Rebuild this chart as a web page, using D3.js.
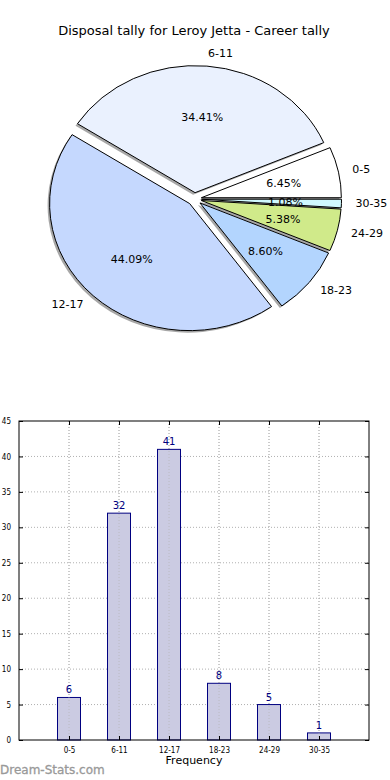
<!DOCTYPE html>
<html><head><meta charset="utf-8">
<script src="https://cdn.jsdelivr.net/npm/d3@7"></script>
<style>
body{margin:0;background:#fff;}
svg{display:block;font-family:"DejaVu Sans",sans-serif;}
</style></head>
<body>
<svg id="chart" width="390" height="780"></svg>
<script>
const categories = ["0-5","6-11","12-17","18-23","24-29","30-35"];
const counts = [6, 32, 41, 8, 5, 1];
const pieColors = ["#ffffff","#eaf1fe","#c5d8fe","#b3d5fe","#d0ea8a","#d0f8fe"];
const yTicks = [0,5,10,15,20,25,30,35,40,45];
const title = "Disposal tally for Leroy Jetta - Career tally";
const xLabel = "Frequency";
const watermark = "Dream-Stats.com";

const svg = d3.select("#chart");

svg.append("text").attr("x",194).attr("y",35).attr("text-anchor","middle")
  .attr("font-size",13).attr("fill","#000").text(title);

// ---------- Pie (matplotlib-style: CCW from east, exploded, elliptical) ----------
const cx = 194.5, cy = 199, rx = 140, ry = 127, explode = 0.05;
const total = d3.sum(counts);
const angleScale = d3.scaleLinear().domain([0,total]).range([0, 2*Math.PI]);
let cum = 0;
const slices = counts.map((v,i)=>{
  const t1 = angleScale(cum); cum += v; const t2 = angleScale(cum);
  return {i, v, t1, t2, mid:(t1+t2)/2};
});
const arcGen = d3.arc().innerRadius(0).outerRadius(1);
const pieG = svg.append("g");
slices.forEach(s=>{
  const ox = cx + explode*rx*Math.cos(s.mid), oy = cy - explode*ry*Math.sin(s.mid);
  pieG.append("path")
    .attr("transform",`translate(${ox-2},${oy+2}) scale(${rx},${ry})`)
    .attr("d", arcGen({startAngle: Math.PI/2 - s.t2, endAngle: Math.PI/2 - s.t1}))
    .attr("fill","#8a8a8a").attr("opacity",0.75);
});
slices.forEach(s=>{
  const ox = cx + explode*rx*Math.cos(s.mid), oy = cy - explode*ry*Math.sin(s.mid);
  pieG.append("path")
    .attr("transform",`translate(${ox},${oy}) scale(${rx},${ry})`)
    .attr("d", arcGen({startAngle: Math.PI/2 - s.t2, endAngle: Math.PI/2 - s.t1}))
    .attr("fill",pieColors[s.i]).attr("stroke","#000").attr("stroke-width",1)
    .attr("vector-effect","non-scaling-stroke");
});
slices.forEach(s=>{
  const ox = cx + explode*rx*Math.cos(s.mid), oy = cy - explode*ry*Math.sin(s.mid);
  const c = Math.cos(s.mid), sn = Math.sin(s.mid);
  pieG.append("text").attr("x", ox + 0.6*rx*c).attr("y", oy - 0.6*ry*sn + 1)
    .attr("text-anchor","middle").attr("dominant-baseline","central")
    .attr("font-size",11).attr("fill","#000")
    .text((s.v/total*100).toFixed(2)+"%");
  pieG.append("text").attr("x", ox + 1.1*rx*c).attr("y", oy - 1.1*ry*sn)
    .attr("text-anchor", c > 0 ? "start" : "end").attr("dominant-baseline","central")
    .attr("font-size",11).attr("fill","#000")
    .text(categories[s.i]);
});

// ---------- Bar chart ----------
const pL = 19, pR = 369, pT = 421, pB = 740;
const x = d3.scaleLinear().domain([-1, 6]).range([pL, pR]);
const y = d3.scaleLinear().domain([0, 45]).range([pB, pT]);
const barW = 0.46;
const bg = svg.append("g");

bg.selectAll(".hg").data(yTicks.slice(1,-1)).enter().append("line")
  .attr("x1",pL).attr("x2",pR).attr("y1",d=>y(d)).attr("y2",d=>y(d))
  .attr("stroke","#b0b0b0").attr("stroke-width",1).attr("stroke-dasharray","1,2");
bg.selectAll(".vg").data(categories).enter().append("line")
  .attr("x1",(d,i)=>x(i)).attr("x2",(d,i)=>x(i)).attr("y1",pT).attr("y2",pB)
  .attr("stroke","#b0b0b0").attr("stroke-width",1).attr("stroke-dasharray","1,2");

bg.selectAll(".bar").data(counts).enter().append("rect")
  .attr("x",(d,i)=>x(i - barW/2)).attr("width", x(barW) - x(0))
  .attr("y", d=>y(d)).attr("height", d=>y(0)-y(d))
  .attr("fill","#cbcbe2").attr("stroke","#000080").attr("stroke-width",1);

bg.selectAll(".vg2").data(categories).enter().append("line")
  .attr("x1",(d,i)=>x(i)).attr("x2",(d,i)=>x(i)).attr("y1",pT).attr("y2",pB)
  .attr("stroke","#b0b0b0").attr("stroke-width",1).attr("stroke-dasharray","1,2").attr("opacity",0.6);

bg.selectAll(".val").data(counts).enter().append("text")
  .attr("x",(d,i)=>x(i)).attr("y",d=>y(d)-4)
  .attr("text-anchor","middle").attr("font-size",10).attr("fill","#000080")
  .text(d=>d);

bg.append("rect").attr("x",pL).attr("y",pT).attr("width",pR-pL).attr("height",pB-pT)
  .attr("fill","none").attr("stroke","#000").attr("stroke-width",1);

const yAxis = d3.axisLeft(y).tickValues(yTicks).tickSize(-4).tickPadding(8).tickFormat(d3.format("d"));
bg.append("g").attr("transform",`translate(${pL},0)`).call(yAxis)
  .call(g=>{g.select(".domain").remove(); g.selectAll("text").attr("font-size",8).attr("font-family","DejaVu Sans Condensed, DejaVu Sans").attr("fill","#000"); g.selectAll("line").attr("stroke","#000");});
const yAxisR = d3.axisRight(y).tickValues(yTicks).tickSize(-4).tickFormat("");
bg.append("g").attr("transform",`translate(${pR},0)`).call(yAxisR)
  .call(g=>{g.select(".domain").remove(); g.selectAll("line").attr("stroke","#000");});
const xAxis = d3.axisBottom(x).tickValues(d3.range(categories.length)).tickSize(-4).tickPadding(7)
  .tickFormat(i=>categories[i]);
bg.append("g").attr("transform",`translate(0,${pB})`).call(xAxis)
  .call(g=>{g.select(".domain").remove(); g.selectAll("text").attr("font-size",8).attr("font-family","DejaVu Sans Condensed, DejaVu Sans").attr("fill","#000"); g.selectAll("line").attr("stroke","#000");});
const xAxisT = d3.axisTop(x).tickValues(d3.range(categories.length)).tickSize(-4).tickFormat("");
bg.append("g").attr("transform",`translate(0,${pT})`).call(xAxisT)
  .call(g=>{g.select(".domain").remove(); g.selectAll("line").attr("stroke","#000");});

svg.append("text").attr("x",194).attr("y",764).attr("text-anchor","middle")
  .attr("font-size",11).attr("fill","#000").text(xLabel);

svg.append("text").attr("x",0).attr("y",774).attr("font-size",12)
  .attr("fill","#999").attr("stroke","#999").attr("stroke-width",0.3).text(watermark);
</script>
</body></html>
